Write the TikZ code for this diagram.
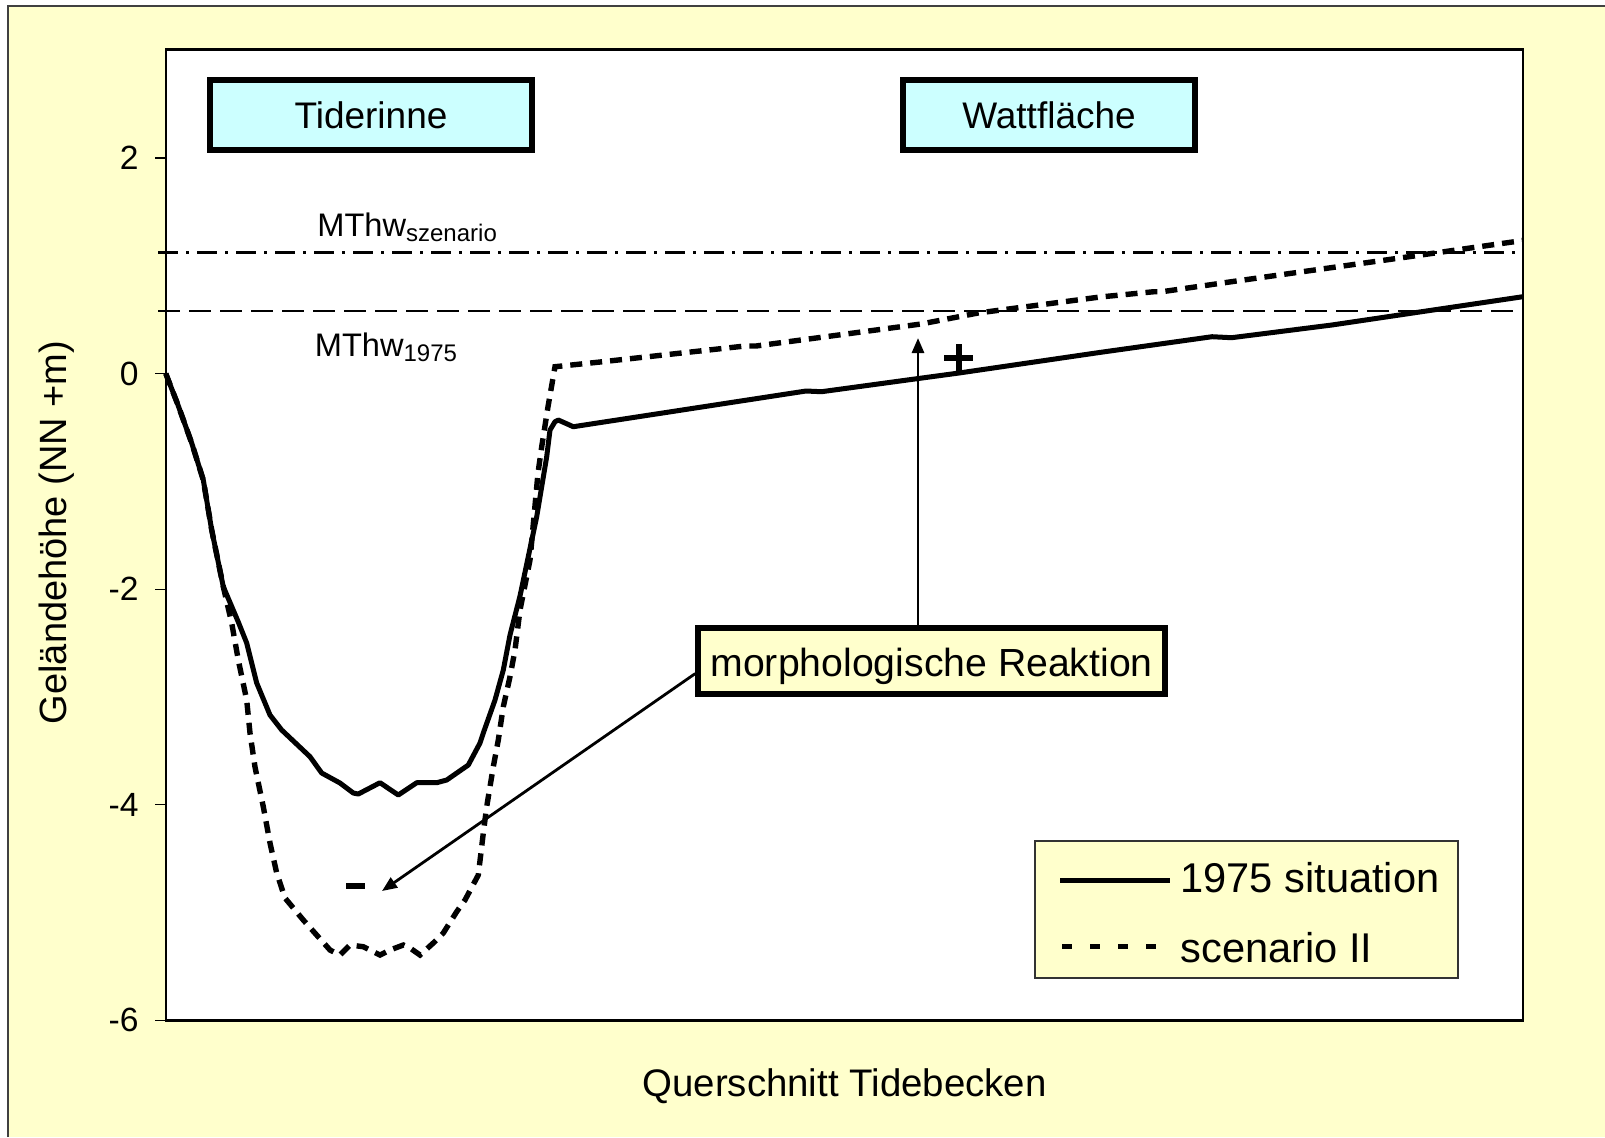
\documentclass[tikz,border=0pt]{standalone}
\usepackage{fontspec}
\setmainfont{Liberation Sans}
\usetikzlibrary{arrows.meta}
\definecolor{bgyellow}{HTML}{FFFFCC}
\definecolor{boxcyan}{HTML}{CCFFFF}
\begin{document}
\begin{tikzpicture}[x=0.5pt,y=-0.5pt,
  regionbox/.style={draw=black, line width=3pt, fill=boxcyan, minimum height=35pt, inner sep=0pt, font=\fontsize{18.5}{22}\selectfont},
  notebox/.style={draw=black, line width=3pt, fill=bgyellow, minimum height=33pt, minimum width=233.5pt, inner sep=0pt, text height=15pt, text depth=0pt, font=\fontsize{19.6}{23}\selectfont},
  ticklab/.style={anchor=east, inner sep=0pt, font=\fontsize{16.8}{19}\selectfont},
  mthwlab/.style={anchor=base west, inner sep=0pt, font=\fontsize{16.3}{19}\selectfont},
  legtext/.style={anchor=west, inner sep=0pt, font=\fontsize{20.8}{24}\selectfont},
  axistitle/.style={inner sep=0pt},
  curvesolid/.style={line width=2.5pt, line join=round},
  curvedash/.style={line width=2.7pt, dash pattern=on 6pt off 4pt},
  refdash/.style={line width=1.2pt, dash pattern=on 11pt off 4.5pt},
  refdashdot/.style={line width=1.2pt, dash pattern=on 10pt off 4pt on 1.5pt off 4pt},
  pointer/.style={line width=1.4pt, -{Triangle[length=7.5pt,width=6pt]}}
]
\useasboundingbox (0,0) rectangle (1605,1137);
% background
\fill[white] (0,0) rectangle (1605,1137);
\fill[bgyellow] (8,6) rectangle (1605,1137);
\draw[line width=0.8pt, black!75] (8,1137) -- (8,6) -- (1605,6);
% plot area
\fill[white] (165.8,49.5) rectangle (1522.8,1020.5);
% ticks
\foreach \yy in {158,373.6,589.2,804.8,1020.4} \draw[line width=0.6pt] (155,\yy) -- (165.8,\yy);
\node[ticklab] (t2) at (139,158) {2};
\node[ticklab] (t0) at (139,373.6) {0};
\node[ticklab] (tm2) at (139,589.2) {-2};
\node[ticklab] (tm4) at (139,804.8) {-4};
\node[ticklab] (tm6) at (139,1020.4) {-6};
% reference water levels
\coordinate (mszA) at (158,252.5);
\coordinate (mszB) at (1522.8,252.5);
\coordinate (m75A) at (158,311);
\coordinate (m75B) at (1522.8,311);
\draw[refdashdot] (mszA) -- (mszB);
\draw[refdash] (m75A) -- (m75B);
\node[mthwlab] (lsz) at (317,236.7) {MThw{\fontsize{12}{14}\selectfont\raisebox{-2.5pt}{szenario}}};
\node[mthwlab] (l75) at (314.5,356.7) {MThw{\fontsize{12}{14}\selectfont\raisebox{-2.5pt}{1975}}};
% scenario II
\draw[curvedash] plot coordinates {(165.8,373.6) (178,405) (191.7,443) (203.3,480) (211.7,530) (223.3,586.7)
 (231.7,623) (238.3,660) (246.7,700) (250,733) (255,767) (263.3,806.7) (270,843) (276.7,873) (285,898)
 (303.3,920) (330,950) (340,955) (350,945) (363.3,946.7) (380,955) (390,950) (403.3,945) (410,948) (420,955)
 (433.3,943) (443.3,933) (456.7,911.7) (465,900) (478.3,875) (483.3,833) (486.7,806.7) (493.3,766.7)
 (498.3,740) (503.3,706.7) (510,676.7) (515,650) (520,610) (530,560) (538,473) (541.7,446.7) (548,406.7)
 (555,366.7) (600,362) (745,346) (756,346) (921,324) (978,313) (1100,297) (1154,291.7) (1162,291.7)
 (1231.5,281.7) (1409,256.7) (1522.8,240.5)};
% 1975 situation
\draw[curvesolid] plot coordinates {(165.8,373.6) (178,405) (191.7,443) (203.3,480) (211.7,530) (223.3,586.7)
 (238.3,622) (246.7,643) (256.7,683) (270,715) (281.7,730) (310,756.7) (321.7,773) (340,783) (353.3,793)
 (358.3,794) (380,782.7) (398.3,795) (416.7,782.7) (436.7,782.7) (446.7,780) (468.3,765) (480,743)
 (483.3,733) (495,700) (503.3,670) (510,635) (520,596) (536.7,516.7) (546.7,456.7) (550,430) (555,421.7)
 (558.3,420) (573.3,426.7) (806,391) (821.5,391.7) (918.3,378.5) (959,373) (1100,352.4) (1212,336.7)
 (1231.5,337.7) (1331.8,325) (1522.8,296.7)};
% plot frame
\draw[line width=1.25pt] (165.8,49.5) rectangle (1522.8,1020.5);
% plus / minus marks
\draw[line width=3pt] (944,358) -- (973,358);
\draw[line width=3pt] (958.5,344) -- (958.5,371);
\draw[line width=3pt] (346,885.5) -- (365,885.5);
% region boxes
\node[regionbox, minimum width=161pt] (tiderinne) at (371,115) {Tiderinne};
\node[regionbox, minimum width=146pt] (watt) at (1049,115) {Wattfläche};
% morphological reaction
\node[notebox] (morph) at (931.7,661.2) {morphologische Reaktion};
\coordinate (tipA) at (382,891);
\coordinate (tipB) at (918,338);
\draw[pointer] (morph.183) -- (tipA);
\draw[pointer] (tipB |- morph.north) -- (tipB);
% legend
\node[draw=black!80, line width=0.6pt, fill=bgyellow, minimum width=211.5pt, minimum height=68.5pt, inner sep=0pt] (legend) at (1246.5,909.5) {};
\coordinate (ls1) at (1060,880);
\coordinate (le1) at (1170,880);
\coordinate (ls2) at (1062,946.7);
\coordinate (le2) at (1172,946.7);
\draw[line width=2.5pt] (ls1) -- (le1);
\draw[line width=2.7pt, dash pattern=on 5pt off 9pt] (ls2) -- (le2);
\node[legtext] (lt1) at (1180,878) {1975 situation};
\node[legtext] (lt2) at (1180,947.5) {scenario II};
% axis titles
\node[axistitle, rotate=90, font=\fontsize{19}{22}\selectfont] (ytitle) at (56.7,532.5) {Geländehöhe (NN +m)};
\node[axistitle, font=\fontsize{19.2}{22}\selectfont] (xtitle) at (844.5,1086) {Querschnitt Tidebecken};
\end{tikzpicture}
\end{document}
